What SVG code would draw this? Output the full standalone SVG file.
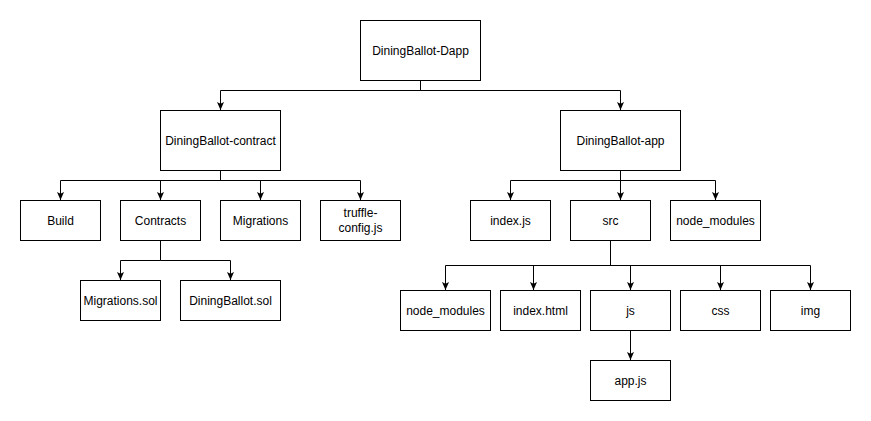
<svg xmlns="http://www.w3.org/2000/svg" width="871" height="421" viewBox="0 0 871 421">
<style>
.box{fill:#fff;stroke:#000;stroke-width:1}
.lbl{font-family:"Liberation Sans",Arial,sans-serif;font-size:12px;fill:#000;text-anchor:middle}
.edge{fill:none;stroke:#000;stroke-width:1;marker-end:url(#arr)}
</style>
<defs>
<marker id="arr" markerUnits="userSpaceOnUse" viewBox="0 0 8 8" markerWidth="8" markerHeight="8" refX="8" refY="4" orient="auto">
<path d="M0,0.5 L8,4 L0,7.5 L1.8,4 Z" fill="#000"/>
</marker>
</defs>
<rect width="871" height="421" fill="#fff"/>
<g id="connectors">
<path class="edge" d="M420.5,80 V90.5 H220.5 V110"/>
<path class="edge" d="M420.5,80 V90.5 H620.5 V110"/>
<path class="edge" d="M220.5,170 V180.5 H60.5 V200"/>
<path class="edge" d="M220.5,170 V180.5 H160.5 V200"/>
<path class="edge" d="M220.5,170 V180.5 H260.5 V200"/>
<path class="edge" d="M220.5,170 V180.5 H360.5 V200"/>
<path class="edge" d="M160.5,240 V260.5 H120.5 V280"/>
<path class="edge" d="M160.5,240 V260.5 H230.5 V280"/>
<path class="edge" d="M620.5,170 V180.5 H510.5 V200"/>
<path class="edge" d="M620.5,170 V200"/>
<path class="edge" d="M620.5,170 V180.5 H715.5 V200"/>
<path class="edge" d="M610.5,240 V265.5 H445.5 V290"/>
<path class="edge" d="M610.5,240 V265.5 H533.5 V290"/>
<path class="edge" d="M610.5,240 V265.5 H630.5 V290"/>
<path class="edge" d="M610.5,240 V265.5 H720.5 V290"/>
<path class="edge" d="M610.5,240 V265.5 H810.5 V290"/>
<path class="edge" d="M630.5,330 V360"/>
</g>
<g id="root"><rect class="box" x="360.5" y="20.5" width="120" height="60"/><text class="lbl" x="420.5" y="54.5">DiningBallot-Dapp</text></g>
<g id="contract"><rect class="box" x="160.5" y="110.5" width="120" height="60"/><text class="lbl" x="220.5" y="144.5">DiningBallot-contract</text></g>
<g id="app"><rect class="box" x="560.5" y="110.5" width="120" height="60"/><text class="lbl" x="620.5" y="144.5">DiningBallot-app</text></g>
<g id="build"><rect class="box" x="20.5" y="200.5" width="80" height="40"/><text class="lbl" x="60.5" y="224.5">Build</text></g>
<g id="contracts"><rect class="box" x="120.5" y="200.5" width="80" height="40"/><text class="lbl" x="160.5" y="224.5">Contracts</text></g>
<g id="migrations"><rect class="box" x="220.5" y="200.5" width="80" height="40"/><text class="lbl" x="260.5" y="224.5">Migrations</text></g>
<g id="truffle"><rect class="box" x="320.5" y="200.5" width="80" height="40"/><text class="lbl" x="360.5" y="217.3">truffle-</text><text class="lbl" x="360.5" y="231.7">config.js</text></g>
<g id="migrations-sol"><rect class="box" x="80.5" y="280.5" width="80" height="40"/><text class="lbl" x="120.5" y="304.5">Migrations.sol</text></g>
<g id="diningballot-sol"><rect class="box" x="180.5" y="280.5" width="100" height="40"/><text class="lbl" x="230.5" y="304.5">DiningBallot.sol</text></g>
<g id="indexjs"><rect class="box" x="470.5" y="200.5" width="80" height="40"/><text class="lbl" x="510.5" y="224.5">index.js</text></g>
<g id="src"><rect class="box" x="570.5" y="200.5" width="80" height="40"/><text class="lbl" x="610.5" y="224.5">src</text></g>
<g id="node-modules-top"><rect class="box" x="670.5" y="200.5" width="90" height="40"/><text class="lbl" x="715.5" y="224.5">node_modules</text></g>
<g id="node-modules-src"><rect class="box" x="400.5" y="290.5" width="90" height="40"/><text class="lbl" x="445.5" y="314.5">node_modules</text></g>
<g id="indexhtml"><rect class="box" x="500.5" y="290.5" width="80" height="40"/><text class="lbl" x="540.5" y="314.5">index.html</text></g>
<g id="js"><rect class="box" x="590.5" y="290.5" width="80" height="40"/><text class="lbl" x="630.5" y="314.5">js</text></g>
<g id="css"><rect class="box" x="680.5" y="290.5" width="80" height="40"/><text class="lbl" x="720.5" y="314.5">css</text></g>
<g id="img"><rect class="box" x="770.5" y="290.5" width="80" height="40"/><text class="lbl" x="810.5" y="314.5">img</text></g>
<g id="appjs"><rect class="box" x="590.5" y="360.5" width="80" height="40"/><text class="lbl" x="630.5" y="384.5">app.js</text></g>
</svg>
